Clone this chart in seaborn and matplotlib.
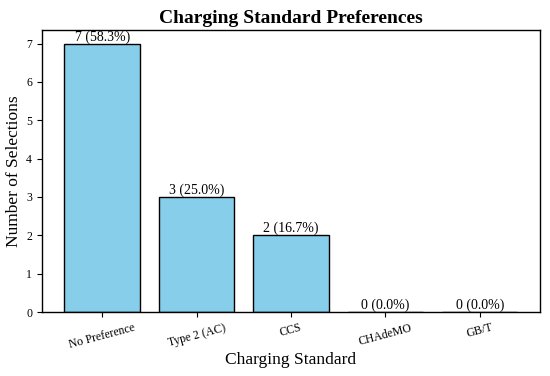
import matplotlib
matplotlib.use("Agg")
import matplotlib.pyplot as plt
import seaborn as sns
import pandas as pd

# === DATOS ===
standards = ["No Preference", "Type 2 (AC)", "CCS", "CHAdeMO", "GB/T"]
counts = [7, 3, 2, 0, 0]
total = sum(counts)

df = pd.DataFrame({"Standard": standards, "Count": counts})

sns.set_style("ticks")
plt.rcParams["font.family"] = ["Liberation Serif", "DejaVu Serif"]
plt.rcParams.update({"text.color": "black", "axes.labelcolor": "black",
                     "xtick.color": "black", "ytick.color": "black",
                     "axes.edgecolor": "black"})

fig, ax = plt.subplots(figsize=(5.5, 3.76), dpi=100)
sns.barplot(data=df, x="Standard", y="Count", color="skyblue",
            edgecolor="black", linewidth=1, width=0.8, saturation=1, ax=ax)

for i, c in enumerate(counts):
    ax.text(i, c, f"{c} ({c / total * 100:.1f}%)", ha="center", va="bottom", fontsize=10)

ax.set_title("Charging Standard Preferences", fontsize=14, fontweight="bold", pad=5)
ax.set_xlabel("Charging Standard", fontsize=12.5, labelpad=1)
ax.set_ylabel("Number of Selections", fontsize=12.5, labelpad=3)
ax.set_xlim(-0.64, 4.64)
ax.set_ylim(0, 7.35)
ax.set_yticks(range(0, 8))
plt.xticks(rotation=15, fontsize=8.5)
plt.yticks(fontsize=8.5)
ax.tick_params(axis="both", direction="out", length=3.5, width=0.8, bottom=True, left=True)
for s in ax.spines.values():
    s.set_visible(True)
    s.set_linewidth(1)
plt.subplots_adjust(left=0.076, right=0.982, top=0.92, bottom=0.17)
plt.savefig("out.png")
